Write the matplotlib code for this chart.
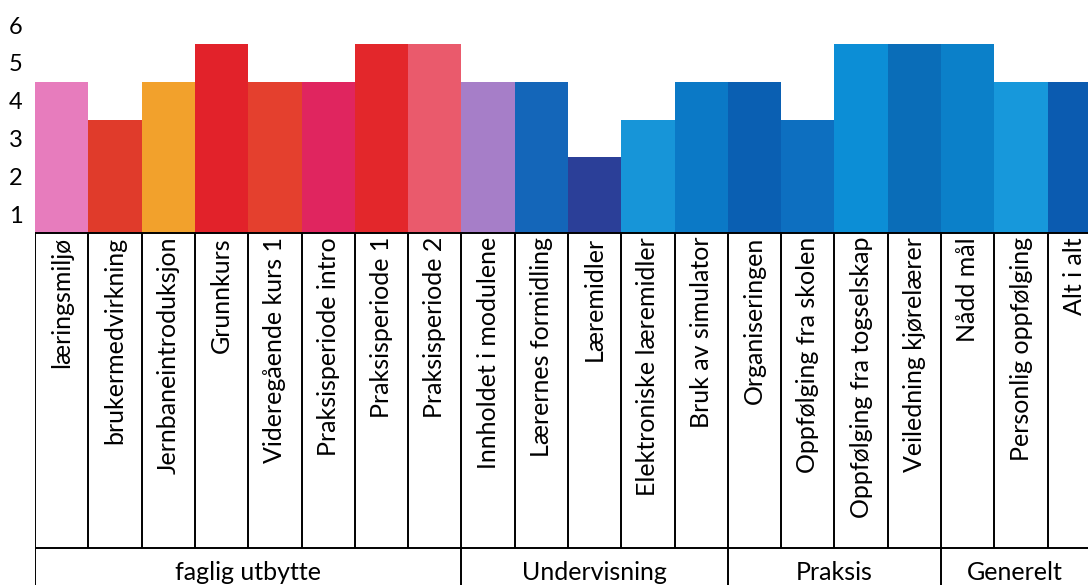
import numpy as np
import matplotlib
matplotlib.use('Agg')
import matplotlib.pyplot as plt

plt.rcParams['font.family'] = ['Lato', 'DejaVu Sans']

labels = ['læringsmiljø', 'brukermedvirkning', 'Jernbaneintroduksjon', 'Grunnkurs',
          'Videregående kurs 1', 'Praksisperiode intro', 'Praksisperiode 1', 'Praksisperiode 2',
          'Innholdet i modulene', 'Lærernes formidling', 'Læremidler', 'Elektroniske læremidler',
          'Bruk av simulator', 'Organiseringen', 'Oppfølging fra skolen', 'Oppfølging fra togselskap',
          'Veiledning kjørelærer', 'Nådd mål', 'Personlig oppfølging', 'Alt i alt']
values = [4.5, 3.5, 4.5, 5.5, 4.5, 4.5, 5.5, 5.5,
          4.5, 4.5, 2.5, 3.5, 4.5,
          4.5, 3.5, 5.5, 5.5,
          5.5, 4.5, 4.5]
colors = ['#e77cbd', '#e03b2b', '#f2a12c', '#e2222a', '#e4402e', '#e0255f', '#e3272b', '#ea5a6c',
          '#a67ec8', '#1466b9', '#2b3f98', '#1795d8', '#0b79c6',
          '#0a5fb2', '#0d6fc0', '#0c8ed6', '#0a6db8',
          '#0b80c9', '#1798db', '#0b5bb0']
groups = ['faglig utbytte', 'Undervisning', 'Praksis', 'Generelt']
group_sizes = [8, 5, 4, 3]
yticks = [1, 2, 3, 4, 5, 6]

W, H = 1088, 585
fig = plt.figure(figsize=(W / 100, H / 100), dpi=100)
fig.patch.set_facecolor('white')

x0_px = 35
bar_px = 53.3
base_px = 233
xmin = -0.5
xmax = -0.5 + (W - x0_px) / bar_px

# bar axes
ax = fig.add_axes([x0_px / W, 1 - base_px / H, 1 - x0_px / W, base_px / H])
x = np.arange(len(labels))
ax.bar(x, np.array(values) - 0.5, bottom=0.5, width=1.0, color=colors, linewidth=0)
ax.set_xlim(xmin, xmax)
ax.set_ylim(0.5, 0.5 + base_px / 37.8)
ax.set_yticks(yticks)
ax.set_yticklabels([str(t) for t in yticks], fontsize=17)
ax.tick_params(axis='y', length=0, pad=9)
ax.set_xticks([])
for s in ax.spines.values():
    s.set_visible(False)

# table axes below
tb = fig.add_axes([x0_px / W, 0, 1 - x0_px / W, 1 - base_px / H])
tb.set_xlim(xmin, xmax)
tb.set_ylim(0, H - base_px)
tb.axis('off')
top = H - base_px
mid = H - 548
lw = 1.4
tb.hlines([top, mid], xmin, xmax, color='black', lw=lw, clip_on=False)
edges = np.arange(len(labels) + 1) - 0.5
tb.vlines(edges, mid, top, color='black', lw=lw)
bounds = np.concatenate([[0], np.cumsum(group_sizes)]) - 0.5
tb.vlines(bounds, 0, mid, color='black', lw=lw)

for i, lab in enumerate(labels):
    tb.text(i, top - 4, lab, rotation=90, ha='center', va='top', fontsize=18)

for g, lo, hi in zip(groups, bounds[:-1], bounds[1:]):
    c = (lo + min(hi, xmax)) / 2
    tb.text(c, mid / 2 - 6, g, ha='center', va='center', fontsize=18)

fig.savefig('out.png', dpi=100)
